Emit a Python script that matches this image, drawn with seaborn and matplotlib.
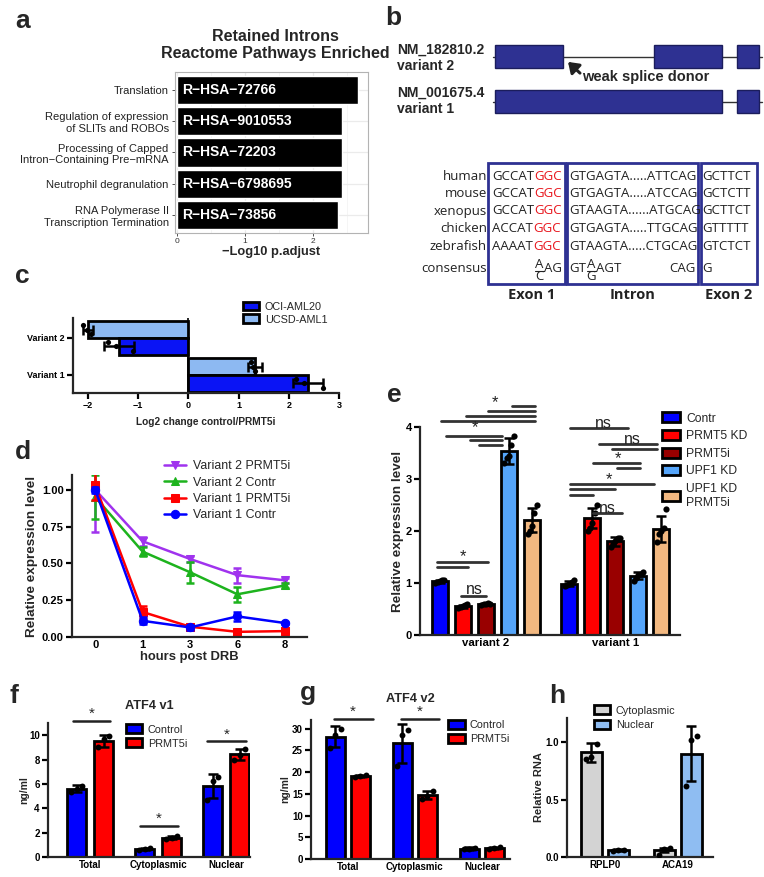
import numpy as np
import pandas as pd
import matplotlib.pyplot as plt
import seaborn as sns
from matplotlib.patches import Rectangle, Patch

# ---------------- data ----------------
# a: reactome enrichment
a_terms = ['Translation', 'Regulation of expression\nof SLITs and ROBOs',
           'Processing of Capped\nIntron\u2212Containing Pre\u2212mRNA',
           'Neutrophil degranulation', 'RNA Polymerase II\nTranscription Termination']
a_ids = ['R\u2212HSA\u221272766', 'R\u2212HSA\u22129010553', 'R\u2212HSA\u221272203',
         'R\u2212HSA\u22126798695', 'R\u2212HSA\u221273856']
a_values = [2.66, 2.43, 2.43, 2.43, 2.37]

# b: gene models and alignment
b_species = ['human', 'mouse', 'xenopus', 'chicken', 'zebrafish']
b_exon1 = ['GCCAT', 'GCCAT', 'GCCAT', 'ACCAT', 'AAAAT']
b_exon1_red = 'GGC'
b_intron = ['GTGAGTA.....ATTCAG', 'GTGAGTA.....ATCCAG', 'GTAAGTA......ATGCAG',
            'GTGAGTA.....TTGCAG', 'GTAAGTA.....CTGCAG']
b_exon2 = ['GCTTCT', 'GCTCTT', 'GCTTCT', 'GTTTTT', 'GTCTCT']

# c: log2 change
c_variants = ['Variant 2', 'Variant 1']
c_lines = ['UCSD-AML1', 'OCI-AML20']
c_ucsd_mean = [-2.01, 1.33]
c_ucsd_sd = [0.10, 0.14]
c_ucsd_reps = [[-2.10, -2.03, -1.95], [1.25, 1.29, 1.33]]
c_oci_mean = [-1.38, 2.38]
c_oci_sd = [0.30, 0.30]
c_oci_reps = [[-1.60, -1.45, -1.10], [2.15, 2.30, 2.68]]

# d: decay after DRB
d_hours = ['0', '1', '3', '6', '8']
d_v2_prmt5i = [1.00, 0.65, 0.53, 0.42, 0.385]
d_v2_prmt5i_sd = [0.29, 0.03, 0.02, 0.05, 0.015]
d_v2_contr = [0.95, 0.58, 0.44, 0.29, 0.35]
d_v2_contr_sd = [0.15, 0.03, 0.07, 0.05, 0.02]
d_v1_prmt5i = [1.03, 0.17, 0.07, 0.035, 0.04]
d_v1_prmt5i_sd = [0.10, 0.04, 0.015, 0.01, 0.02]
d_v1_contr = [1.00, 0.11, 0.065, 0.14, 0.095]
d_v1_contr_sd = [0.02, 0.025, 0.015, 0.03, 0.01]

# e: relative expression
e_groups = ['variant 2', 'variant 1']
e_conds = ['Contr', 'PRMT5 KD', 'PRMT5i', 'UPF1 KD', 'UPF1 KD\nPRMT5i']
e_mean = [[1.03, 0.99], [0.55, 2.25], [0.59, 1.80], [3.53, 1.14], [2.21, 2.03]]
e_sd = [[0.03, 0.04], [0.03, 0.20], [0.02, 0.08], [0.25, 0.07], [0.23, 0.25]]
e_reps = [[[1.00, 1.02, 1.04, 1.06, 1.05], [0.95, 0.97, 0.99, 1.02, 1.05]],
          [[0.52, 0.54, 0.55, 0.57, 0.60], [2.00, 2.05, 2.15, 2.35, 2.50]],
          [[0.57, 0.59, 0.60, 0.61, 0.60], [1.70, 1.75, 1.80, 1.87, 1.87]],
          [[3.30, 3.40, 3.45, 3.65, 3.82], [1.03, 1.10, 1.15, 1.18, 1.22]],
          [[1.95, 2.00, 2.10, 2.35, 2.50], [1.78, 1.95, 2.00, 2.05, 2.42]]]

# f, g: ATF4 ELISA
fg_fracs = ['Total', 'Cytoplasmic', 'Nuclear']
fg_conds = ['Control', 'PRMT5i']
f_mean = [[5.6, 0.65, 5.85], [9.55, 1.6, 8.45]]
f_sd = [[0.3, 0.08, 1.0], [0.5, 0.15, 0.45]]
f_reps = [[[5.3, 5.6, 5.85], [0.58, 0.65, 0.72], [4.7, 6.2, 6.6]],
          [[9.0, 9.7, 9.9], [1.45, 1.6, 1.75], [8.0, 8.4, 8.9]]]
g_mean = [[28.2, 26.6, 2.4], [19.1, 14.7, 2.5]]
g_sd = [[2.5, 4.5, 0.3], [0.3, 1.0, 0.2]]
g_reps = [[[25.5, 28.5, 30.0], [21.3, 28.6, 29.8], [2.2, 2.4, 2.6]],
          [[18.9, 19.1, 19.4], [13.7, 14.6, 15.7], [2.3, 2.5, 2.7]]]

# h: fractionation control
h_genes = ['RPLP0', 'ACA19']
h_conds = ['Cytoplasmic', 'Nuclear']
h_mean = [[0.91, 0.06], [0.06, 0.90]]
h_sd = [[0.08, 0.02], [0.01, 0.24]]
h_reps = [[[0.85, 0.87, 0.98], [0.02, 0.07, 0.08]],
          [[0.05, 0.06, 0.06], [0.62, 1.02, 1.05]]]

# ---------------- setup ----------------
sns.set_theme(style='ticks')
plt.rcParams['font.family'] = ['Liberation Sans', 'DejaVu Sans']
plt.rcParams['axes.linewidth'] = 1.6

W, H = 764, 877
fig = plt.figure(figsize=(W / 100, H / 100), dpi=100)


def ax_px(l, t, r, b):
    return fig.add_axes([l / W, 1 - b / H, (r - l) / W, (b - t) / H])


def panel_label(x, y, s):
    fig.text(x / W, 1 - y / H, s, fontsize=19, fontweight='bold', va='baseline', ha='left')


def gp_style(ax, size=7, xticklen=0):
    sns.despine(ax=ax)
    ax.tick_params(axis='both', width=1.6, length=4, labelsize=size, pad=2, colors='black')
    ax.tick_params(axis='x', length=xticklen)
    for lab in ax.get_xticklabels() + ax.get_yticklabels():
        lab.set_fontweight('bold')


def gp_bars(ax, cats, groups, means, sds, reps, colors, width, gap, orient='x', dot=18):
    rows = []
    for g, m in zip(groups, means):
        for c, v in zip(cats, m):
            rows.append({'cat': c, 'group': g, 'val': v})
    df = pd.DataFrame(rows)
    pal = dict(zip(groups, colors))
    kw = dict(data=df, hue='group', hue_order=groups, order=cats, palette=pal, width=width,
              gap=gap, edgecolor='black', linewidth=2, errorbar=None, legend=False,
              saturation=1, ax=ax, zorder=2)
    if orient == 'x':
        sns.barplot(x='cat', y='val', **kw)
    else:
        sns.barplot(y='cat', x='val', orient='y', **kw)
    n = len(groups)
    bw = width / n * (1 - gap)
    for j in range(n):
        off = (j - (n - 1) / 2) * width / n
        for i in range(len(cats)):
            pos = i + off
            r = reps[j][i]
            spread = np.linspace(-0.28, 0.28, len(r)) * bw
            if orient == 'x':
                ax.errorbar(pos, means[j][i], yerr=sds[j][i], fmt='none', ecolor='black',
                            elinewidth=1.8, capsize=3.5, capthick=1.8, zorder=4)
                ax.scatter(pos + spread, r, s=dot, color='black', zorder=5, linewidths=0)
            else:
                ax.errorbar(means[j][i], pos, xerr=sds[j][i], fmt='none', ecolor='black',
                            elinewidth=1.8, capsize=3.5, capthick=1.8, zorder=4)
                ax.scatter(r, pos + spread, s=dot, color='black', zorder=5, linewidths=0)


def gp_legend(ax, labels, colors, anchor, size=7.8, spacing=0.35):
    handles = [Patch(facecolor=c, edgecolor='black', linewidth=2) for c in colors]
    ax.legend(handles, labels, loc='upper left', bbox_to_anchor=anchor, frameon=False,
              fontsize=size, handlelength=1.5, handleheight=0.9, handletextpad=0.5,
              labelspacing=spacing, borderaxespad=0, borderpad=0)


# ---------------- a ----------------
axa = ax_px(175, 72, 368, 233)
sns.barplot(x=a_values, y=a_terms, color='black', width=0.9, saturation=1, ax=axa, zorder=2)
axa.set_xlim(-0.03, 2.81)
axa.set_ylim(4.58, -0.58)
axa.set_xticks([0, 1, 2])
axa.set_xticks([0.5, 1.5, 2.5], minor=True)
axa.grid(True, which='major', color='#EBEBEB', lw=0.9)
axa.grid(True, which='minor', axis='x', color='#F2F2F2', lw=0.5)
axa.set_axisbelow(True)
for s in axa.spines.values():
    s.set_color('#B3B3B3')
    s.set_linewidth(0.8)
axa.tick_params(axis='both', which='major', length=2.5, width=0.6, color='#333333')
axa.tick_params(axis='x', which='minor', length=0)
axa.tick_params(axis='x', labelsize=6, pad=1, labelcolor='#333333')
axa.tick_params(axis='y', labelsize=8, pad=2, labelcolor='#222222')
for i, t in enumerate(a_ids):
    axa.text(0.07, i, t, color='white', fontweight='bold', fontsize=10, va='center', ha='left', zorder=3)
axa.set_xlabel('\u2212Log10 p.adjust', fontsize=9.3, fontweight='bold', labelpad=1)
axa.set_ylabel('')
fig.text(275 / W, 1 - 45 / H, 'Retained Introns\nReactome Pathways Enriched', ha='center', va='center',
         fontsize=11.5, fontweight='bold', linespacing=1.15)
panel_label(15, 28, 'a')

# ---------------- b ----------------
axb = ax_px(380, 0, 764, 300)
axb.set_xlim(380, 764)
axb.set_ylim(300, 0)
axb.axis('off')
navy = '#2E3192'
for y0, exons in [(45, [(495, 563), (654, 722), (737, 759)]), (90, [(495, 722), (737, 759)])]:
    axb.plot([493, 762], [y0 + 11.5, y0 + 11.5], color='#333333', lw=1, zorder=1)
    for x0, x1 in exons:
        axb.add_patch(Rectangle((x0, y0), x1 - x0, 23, facecolor=navy, edgecolor='#1B1D5C', lw=1, zorder=2))
for y, s in [(50, 'NM_182810.2'), (66, 'variant 2'), (93, 'NM_001675.4'), (109, 'variant 1')]:
    axb.text(397, y, s, fontsize=10, fontweight='bold', va='center', ha='left')
axb.annotate('', xy=(566, 60), xytext=(582, 75),
             arrowprops=dict(arrowstyle='-|>,head_length=0.5,head_width=0.35', color='#222222', lw=2.2))
axb.text(582, 77, 'weak splice donor', fontsize=10.5, fontweight='bold', va='center', ha='left')

for x0, x1 in [(488, 565), (567, 698), (701, 757)]:
    axb.add_patch(Rectangle((x0, 163), x1 - x0, 121, fill=False, edgecolor=navy, lw=2))
seq_font = dict(family=['Open Sans', 'DejaVu Sans'], fontsize=9.5, va='center')
row_y = [176, 193.5, 211, 229, 247]
for i, y in enumerate(row_y):
    axb.text(487, y, b_species[i], ha='right', color='#222222', **seq_font)
    t1 = axb.text(492, y, b_exon1[i], ha='left', color='#222222', **seq_font)
    axb.annotate(b_exon1_red, xy=(1, 0.5), xycoords=t1, ha='left', va='center', color='#E8141B',
                 family=['Open Sans', 'DejaVu Sans'], fontsize=9.5)
    axb.text(569, y, b_intron[i], ha='left', color='#222222', **seq_font)
    axb.text(702, y, b_exon2[i], ha='left', color='#222222', **seq_font)
cy = 269
axb.text(487, cy, 'consensus', ha='right', color='#222222', **seq_font)


def frac(x, top, bot):
    axb.text(x, cy - 5, top, ha='center', color='#222222', **seq_font)
    axb.text(x, cy + 8, bot, ha='center', color='#222222', **seq_font)
    axb.plot([x - 4.5, x + 4.5], [cy + 1.5, cy + 1.5], color='#222222', lw=0.8)


frac(539, 'A', 'C')
axb.text(544, cy - 1, 'AG', ha='left', color='#222222', **seq_font)
axb.text(569, cy - 1, 'GT', ha='left', color='#222222', **seq_font)
frac(591, 'A', 'G')
axb.text(596, cy - 1, 'AGT', ha='left', color='#222222', **seq_font)
axb.text(696, cy - 1, 'CAG', ha='right', color='#222222', **seq_font)
axb.text(702, cy - 1, 'G', ha='left', color='#222222', **seq_font)
for x, s in [(532, 'Exon 1'), (633, 'Intron'), (729, 'Exon 2')]:
    axb.text(x, 295, s, ha='center', va='center', fontsize=10.5, fontweight='bold',
             family=['Open Sans', 'DejaVu Sans'], color='#222222')
panel_label(385, 25, 'b')

# ---------------- c ----------------
axc = ax_px(73, 318, 339, 393)
gp_bars(axc, c_variants, c_lines, [c_ucsd_mean, c_oci_mean], [c_ucsd_sd, c_oci_sd],
        [c_ucsd_reps, c_oci_reps], ['#8DB9F2', '#0A14F5'], width=0.9, gap=0, orient='y', dot=14)
axc.axvline(0, color='black', lw=1.2, zorder=1)
axc.set_xlim(-2.3, 3.0)
axc.set_ylim(1.49, -0.54)
axc.set_xticks([-2, -1, 0, 1, 2, 3])
axc.set_xlabel('Log2 change control/PRMT5i', fontsize=7.3, fontweight='bold', labelpad=5)
axc.set_ylabel('')
gp_style(axc, size=6.5, xticklen=4)
gp_legend(axc, ['OCI-AML20', 'UCSD-AML1'], ['#0A14F5', '#8DB9F2'], (0.64, 1.22), size=7.8, spacing=0.25)
panel_label(15, 283, 'c')

# ---------------- d ----------------
axd = ax_px(72, 475, 307, 637)
xpos = np.arange(len(d_hours))
d_series = [('Variant 2 PRMT5i', d_v2_prmt5i, d_v2_prmt5i_sd, '#A033EE', 'v'),
            ('Variant 2 Contr', d_v2_contr, d_v2_contr_sd, '#1DB31D', '^'),
            ('Variant 1 PRMT5i', d_v1_prmt5i, d_v1_prmt5i_sd, '#FF0000', 's'),
            ('Variant 1 Contr', d_v1_contr, d_v1_contr_sd, '#0000FF', 'o')]
for lab, m, s, col, mk in d_series:
    sns.lineplot(x=xpos, y=m, color=col, marker=mk, markersize=6, markeredgecolor=col,
                 lw=1.8, label=lab, ax=axd)
    axd.errorbar(xpos, m, yerr=s, fmt='none', ecolor=col, elinewidth=1.8, capsize=3, capthick=1.8)
axd.set_xlim(-0.49, 4.47)
axd.set_ylim(0, 1.1)
axd.set_xticks(xpos)
axd.set_xticklabels(d_hours)
axd.set_yticks([0, 0.25, 0.5, 0.75, 1.0])
axd.set_yticklabels(['0.00', '0.25', '0.50', '0.75', '1.00'])
axd.set_xlabel('hours post DRB', fontsize=9.4, fontweight='bold', labelpad=1)
axd.set_ylabel('Relative expression level', fontsize=9.7, fontweight='bold', labelpad=3)
gp_style(axd, size=8)
axd.legend(loc='upper left', bbox_to_anchor=(0.39, 1.09), frameon=False, fontsize=8.9,
           handlelength=1.8, handletextpad=0.6, labelspacing=0.35, borderaxespad=0, borderpad=0)
panel_label(15, 459, 'd')

# ---------------- e ----------------
axe = ax_px(420, 427, 680, 635)
e_cols = ['#0000FF', '#FF0000', '#990000', '#55A5FA', '#F2B880']
gp_bars(axe, e_groups, e_conds, e_mean, e_sd, e_reps, e_cols, width=0.89, gap=0.3, dot=20)
axe.set_xlim(-0.51, 1.5)
axe.set_ylim(0, 4)
axe.set_yticks([0, 1, 2, 3, 4])
axe.set_xlabel('')
axe.set_ylabel('Relative expression level', fontsize=9.7, fontweight='bold', labelpad=1)
gp_style(axe, size=8)
for lab in axe.get_xticklabels():
    lab.set_fontsize(8.2)
e_lines = [(0.20, 0.38, 4.40), (0.016, 0.38, 4.31), (-0.155, 0.38, 4.21), (-0.35, 0.38, 4.12),
           (-0.31, 0.124, 3.83), (-0.124, 0.124, 3.75), (-0.054, 0.124, 3.65),
           (-0.38, 0.016, 1.40), (-0.38, -0.14, 1.31), (-0.19, 0.0, 0.75),
           (0.65, 1.10, 3.98), (0.876, 1.326, 3.67), (0.977, 1.326, 3.58),
           (0.83, 1.19, 3.31), (1.016, 1.19, 3.21),
           (0.65, 1.30, 2.90), (0.65, 1.0, 2.81), (0.65, 0.83, 2.69), (0.83, 1.05, 2.35)]
for x0, x1, y in e_lines:
    axe.plot([x0, x1], [y, y], color='#333333', lw=2, clip_on=False, zorder=6)
e_marks = [(0.07, 4.47, '*'), (-0.085, 3.98, '*'), (-0.18, 1.5, '*'), (-0.09, 0.88, 'ns'),
           (0.91, 4.06, 'ns'), (1.13, 3.76, 'ns'), (1.02, 3.40, '*'), (0.95, 2.98, '*'),
           (0.94, 2.44, 'ns')]
for x, y, s in e_marks:
    axe.text(x, y, s, ha='center', va='center', fontsize=12 if s == '*' else 11.5,
             color='#222222', clip_on=False, zorder=6)
gp_legend(axe, e_conds, e_cols, (0.93, 1.07), size=8.7, spacing=0.45)
panel_label(387, 402, 'e')

# ---------------- f ----------------
axf = ax_px(48, 723, 250, 857)
gp_bars(axf, fg_fracs, fg_conds, f_mean, f_sd, f_reps, ['#0000FF', '#FF0000'], width=0.8, gap=0.3)
axf.set_xlim(-0.62, 2.35)
axf.set_ylim(0, 11)
axf.set_yticks([0, 2, 4, 6, 8, 10])
axf.set_xlabel('')
axf.set_ylabel('ng/ml', fontsize=7.5, fontweight='bold', labelpad=0)
axf.set_title('ATF4 v1', fontsize=9.2, fontweight='bold', pad=10)
gp_style(axf, size=7)
for x0, x1, y, ty in [(-0.25, 0.29, 11.2, 11.75), (0.74, 1.29, 2.55, 3.1), (1.72, 2.29, 9.5, 10.05)]:
    axf.plot([x0, x1], [y, y], color='#222222', lw=1.8, clip_on=False)
    axf.text((x0 + x1) / 2, ty, '*', ha='center', va='center', fontsize=11, clip_on=False)
gp_legend(axf, fg_conds, ['#0000FF', '#FF0000'], (0.386, 0.99))
panel_label(10, 703, 'f')

# ---------------- g ----------------
axg = ax_px(311, 720, 510, 859)
gp_bars(axg, fg_fracs, fg_conds, g_mean, g_sd, g_reps, ['#0000FF', '#FF0000'], width=0.75, gap=0.25)
axg.set_xlim(-0.55, 2.42)
axg.set_ylim(0, 32)
axg.set_yticks([0, 5, 10, 15, 20, 25, 30])
axg.set_xlabel('')
axg.set_ylabel('ng/ml', fontsize=7.5, fontweight='bold', labelpad=1)
axg.set_title('ATF4 v2', fontsize=9.2, fontweight='bold', pad=13)
gp_style(axg, size=7)
for x0, x1 in [(-0.21, 0.37), (0.79, 1.36)]:
    axg.plot([x0, x1], [32.3, 32.3], color='#222222', lw=1.8, clip_on=False)
    axg.text((x0 + x1) / 2, 34.0, '*', ha='center', va='center', fontsize=11, clip_on=False)
gp_legend(axg, fg_conds, ['#0000FF', '#FF0000'], (0.69, 1.0))
panel_label(300, 700, 'g')

# ---------------- h ----------------
axh = ax_px(567, 718, 713, 857)
h_cols = ['#D3D3D3', '#8FBDF2']
gp_bars(axh, h_genes, h_conds, h_mean, h_sd, h_reps, h_cols, width=0.74, gap=0.22)
axh.set_xlim(-0.52, 1.48)
axh.set_ylim(0, 1.21)
axh.set_yticks([0, 0.5, 1.0])
axh.set_xlabel('')
axh.set_ylabel('Relative RNA', fontsize=8, fontweight='bold', labelpad=1)
gp_style(axh, size=7)
gp_legend(axh, h_conds, h_cols, (0.185, 1.09))
panel_label(549, 703, 'h')

fig.savefig('out.png', dpi=100)
